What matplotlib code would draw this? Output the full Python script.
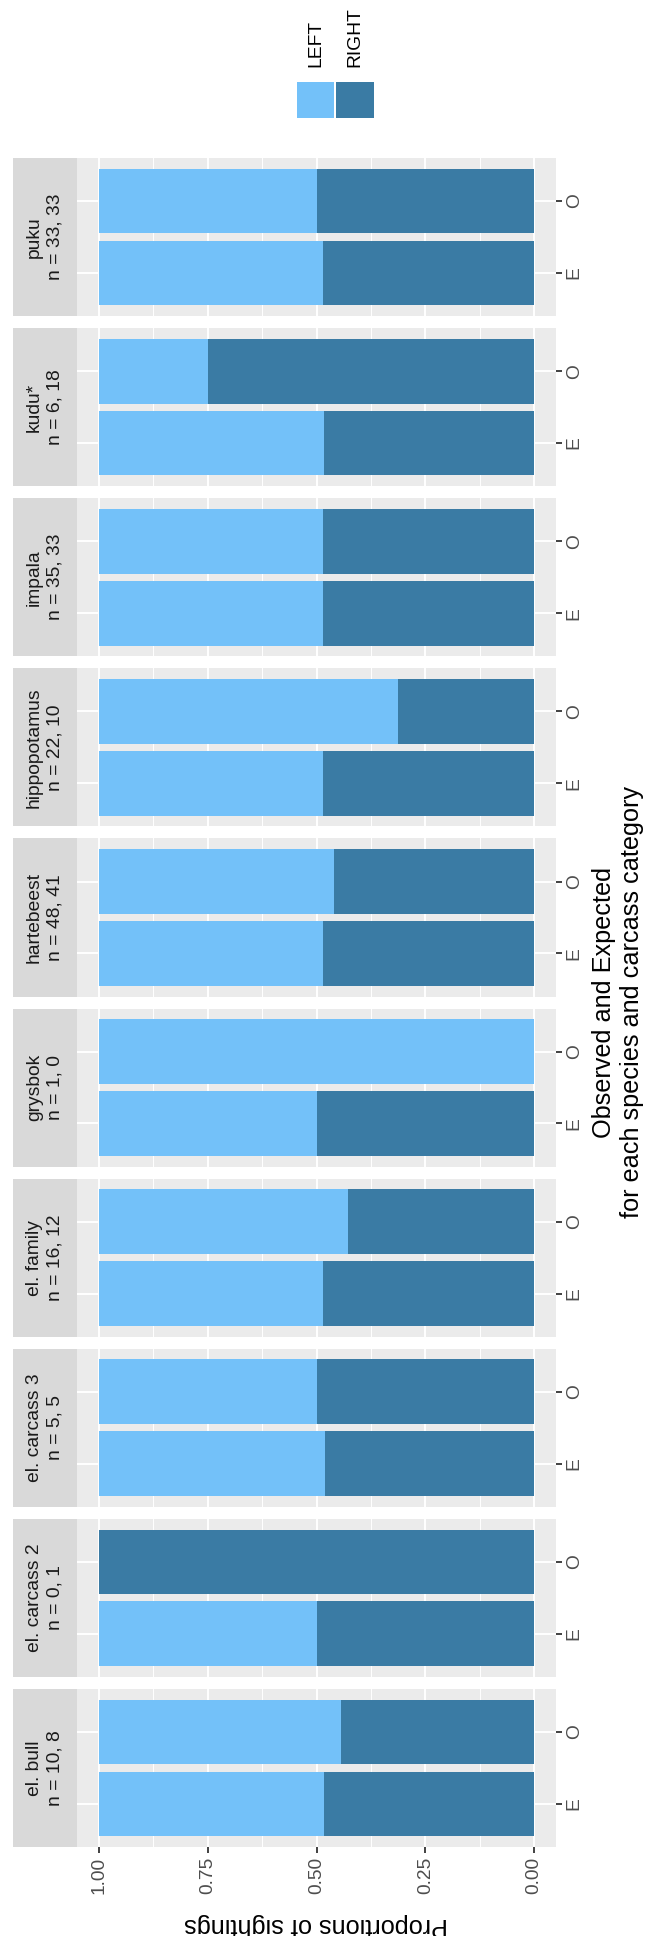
import matplotlib.pyplot as plt
from matplotlib.patches import Rectangle

plt.rcParams['font.family'] = ['Liberation Sans', 'DejaVu Sans']

# data (facets in original left-to-right order, drawn bottom-to-top here)
species = ["el. bull", "el. carcass 2", "el. carcass 3", "el. family", "grysbok",
           "hartebeest", "hippopotamus", "impala", "kudu*", "puku"]
n_left = [10, 0, 5, 16, 1, 48, 22, 35, 6, 33]
n_right = [8, 1, 5, 12, 0, 41, 10, 33, 18, 33]
expected_right = [0.483, 0.5, 0.48, 0.486, 0.5, 0.484, 0.484, 0.484, 0.483, 0.484]
groups = ["E", "O"]
ticks = [1.0, 0.75, 0.5, 0.25, 0.0]
tick_labels = ["1.00", "0.75", "0.50", "0.25", "0.00"]
minor_ticks = [0.875, 0.625, 0.375, 0.125]

LIGHT = "#73C1F9"
DARK = "#3A7BA4"

W, H = 653, 1936
fig = plt.figure(figsize=(W / 100, H / 100), dpi=100)


def fx(px):
    return px / W


def fy(px):
    return 1 - px / H


top0, bottom_last, gap = 158, 1847, 12
ph = (bottom_last - top0 - gap * 9) / 10

for i, sp in enumerate(species):
    bottom = bottom_last - i * (ph + gap)
    ax = fig.add_axes([fx(77), fy(bottom), (556 - 77) / W, ph / H])
    obs = n_right[i] / (n_left[i] + n_right[i])
    right = [expected_right[i], obs]
    left = [1 - r for r in right]
    y = [1, 2]
    ax.barh(y, right, height=0.9, color=DARK, zorder=2)
    ax.barh(y, left, left=right, height=0.9, color=LIGHT, zorder=2)
    ax.set_xlim(1.05, -0.05)
    ax.set_ylim(0.4, 2.6)
    ax.set_facecolor("#EBEBEB")
    for s in ax.spines.values():
        s.set_visible(False)
    ax.set_xticks(ticks)
    ax.set_xticks(minor_ticks, minor=True)
    ax.set_yticks(y)
    ax.set_yticklabels(groups)
    ax.set_axisbelow(True)
    ax.grid(which='major', color='white', linewidth=1.4)
    ax.grid(which='minor', axis='x', color='white', linewidth=0.7)
    ax.yaxis.tick_right()
    ax.tick_params(axis='y', length=4, width=1.3, color='#333333', labelsize=13.8,
                   labelcolor='#4D4D4D', pad=3)
    for lab in ax.get_yticklabels():
        lab.set_rotation(90)
        lab.set_va('center')
        lab.set_ha('left')
    ax.tick_params(axis='x', which='minor', length=0)
    if i == 0:
        ax.set_xticklabels(tick_labels, rotation=90, ha='center', va='top')
        ax.tick_params(axis='x', which='major', length=4, width=1.3, color='#333333',
                       labelsize=13.8, labelcolor='#4D4D4D', pad=3)
    else:
        ax.tick_params(axis='x', which='major', length=0, labelbottom=False)

    # facet strip
    sax = fig.add_axes([fx(13), fy(bottom), 64 / W, ph / H])
    sax.set_facecolor("#D9D9D9")
    sax.set_xticks([])
    sax.set_yticks([])
    for s in sax.spines.values():
        s.set_visible(False)
    sax.text(0.5, 0.5, f"{sp}\nn = {n_left[i]}, {n_right[i]}", rotation=90,
             ha='center', va='center', multialignment='center', linespacing=1.3,
             transform=sax.transAxes, fontsize=13.9, color='#1A1A1A')

# legend
for x0, x1, col, lab in [(297, 334, LIGHT, "LEFT"), (336, 374, DARK, "RIGHT")]:
    fig.add_artist(Rectangle((fx(x0), fy(118)), (x1 - x0) / W, 36 / H,
                             transform=fig.transFigure, facecolor=col, edgecolor='none'))
    fig.text(fx((x0 + x1) / 2), fy(67), lab, rotation=90, ha='center', va='bottom',
             fontsize=13.9)

# axis titles
fig.text(fx(618), fy((top0 + bottom_last) / 2),
         "Observed and Expected\nfor each species and carcass category",
         rotation=90, ha='center', va='center', multialignment='center',
         linespacing=1.2, fontsize=18.2)
fig.text(fx(316), fy(1925), "Proportions of sightings", rotation=180,
         ha='center', va='center', fontsize=18.2)

fig.savefig("out.png", dpi=100)
